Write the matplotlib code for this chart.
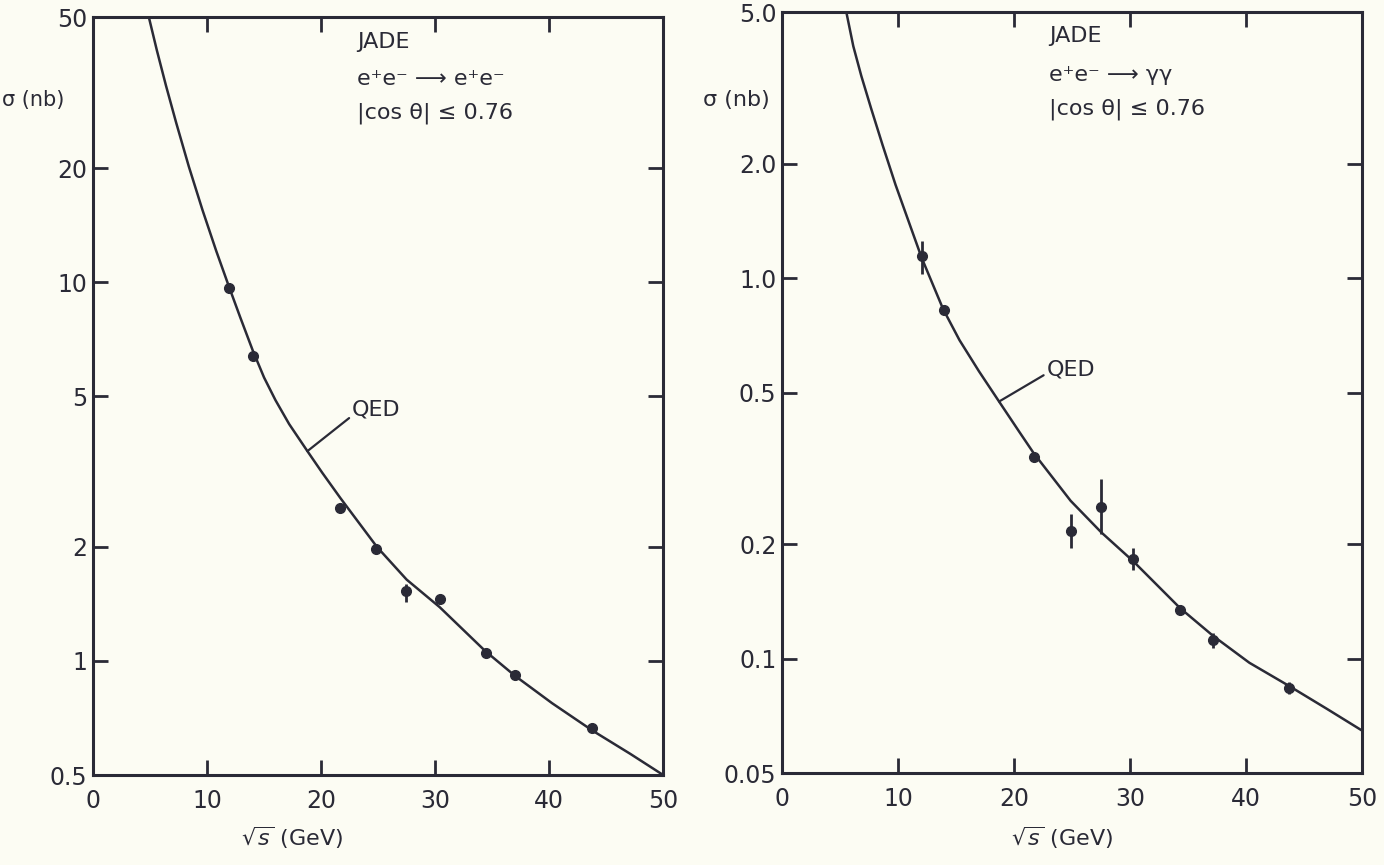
import numpy as np
import matplotlib.pyplot as plt
from matplotlib.ticker import NullLocator

# e+e- -> e+e- (left panel)
ee_x = [11.9, 14.0, 21.7, 24.85, 27.45, 30.45, 34.45, 37.0, 43.75]
ee_y = [9.65, 6.40, 2.53, 1.97, 1.53, 1.46, 1.047, 0.919, 0.667]
ee_lo = [0.3, 0.12, 0.05, 0.04, 0.10, 0.03, 0.02, 0.02, 0.015]
ee_hi = [0.3, 0.12, 0.05, 0.04, 0.07, 0.03, 0.02, 0.02, 0.015]
qed_ee_x = [4.9, 5.6, 6.4, 7.3, 8.4, 9.6, 10.8, 11.9, 12.9, 14.0, 15.0, 16.0,
            17.2, 18.8, 20.1, 21.7, 24.9, 27.5, 30.4, 34.4, 37.0, 40.25,
            43.8, 47.1, 50.0]
qed_ee_y = [50, 40.9, 33.0, 26.3, 20.2, 15.5, 12.1, 9.77, 8.09, 6.61, 5.60,
            4.88, 4.22, 3.58, 3.14, 2.69, 2.0, 1.64, 1.387, 1.062, 0.914,
            0.774, 0.655, 0.569, 0.5]

# e+e- -> gamma gamma (right panel)
gg_x = [12.05, 13.95, 21.7, 24.9, 27.5, 30.3, 34.3, 37.2, 43.7]
gg_y = [1.144, 0.825, 0.339, 0.217, 0.251, 0.183, 0.1344, 0.1118, 0.0838]
gg_lo = [0.12, 0.02, 0.008, 0.022, 0.038, 0.012, 0.004, 0.005, 0.003]
gg_hi = [0.106, 0.02, 0.008, 0.023, 0.045, 0.012, 0.004, 0.005, 0.003]
qed_gg_x = [5.55, 6.15, 6.84, 7.69, 8.67, 9.79, 10.92, 12.05, 13.89, 15.31,
            16.99, 18.72, 20.43, 21.7, 24.89, 27.52, 30.32, 34.31, 37.18,
            40.3, 43.73, 47.0, 50.0]
qed_gg_y = [5.0, 4.07, 3.40, 2.79, 2.24, 1.76, 1.41, 1.13, 0.830, 0.687,
            0.569, 0.474, 0.396, 0.347, 0.260, 0.215, 0.180, 0.136, 0.1148,
            0.0976, 0.0848, 0.0738, 0.0648]

x_ticks = [0, 10, 20, 30, 40, 50]
ee_ticks = [0.5, 1, 2, 5, 10, 20, 50]
ee_labels = ["0.5", "1", "2", "5", "10", "20", "50"]
gg_ticks = [0.05, 0.1, 0.2, 0.5, 1.0, 2.0, 5.0]
gg_labels = ["0.05", "0.1", "0.2", "0.5", "1.0", "2.0", "5.0"]

ink = "#2a2a36"
paper = "#fcfcf3"
plt.rcParams["font.family"] = ["DejaVu Sans"]
plt.rcParams["mathtext.fontset"] = "dejavusans"

fig = plt.figure(figsize=(13.84, 8.65), dpi=100, facecolor=paper)
ax1 = fig.add_axes([0.0672, 0.104, 0.412, 0.876])
ax2 = fig.add_axes([0.565, 0.106, 0.419, 0.880])


def style(ax, ticks, labels):
    ax.set_facecolor(paper)
    ax.set_yscale("log")
    ax.set_xlim(0, 50)
    ax.set_ylim(ticks[0], ticks[-1])
    ax.set_xticks(x_ticks)
    ax.set_yticks(ticks)
    ax.set_yticklabels(labels)
    ax.yaxis.set_minor_locator(NullLocator())
    ax.tick_params(direction="in", top=True, right=True, length=11, width=2,
                   color=ink, labelcolor=ink, labelsize=17)
    ax.tick_params(axis="x", pad=10)
    ax.tick_params(axis="y", pad=4)
    for s in ax.spines.values():
        s.set_linewidth(2.2)
        s.set_color(ink)


style(ax1, ee_ticks, ee_labels)
style(ax2, gg_ticks, gg_labels)

ax1.plot(qed_ee_x, qed_ee_y, color=ink, lw=1.8)
ax1.errorbar(ee_x, ee_y, yerr=[ee_lo, ee_hi], fmt="o", color=ink, ms=7,
             elinewidth=2, capsize=0)
ax2.plot(qed_gg_x, qed_gg_y, color=ink, lw=1.8)
ax2.errorbar(gg_x, gg_y, yerr=[gg_lo, gg_hi], fmt="o", color=ink, ms=7,
             elinewidth=2, capsize=0)

# panel captions
for ax, reaction, x0 in [(ax1, "e⁺e⁻ ⟶ e⁺e⁻", 0.463), (ax2, "e⁺e⁻ ⟶ γγ", 0.46)]:
    ax.text(x0, 0.968, "JADE", transform=ax.transAxes, fontsize=16,
            color=ink, va="center")
    ax.text(x0, 0.918, reaction, transform=ax.transAxes, fontsize=16,
            color=ink, va="center")
    ax.text(x0, 0.873, "|cos θ| ≤ 0.76", transform=ax.transAxes, fontsize=16,
            color=ink, va="center")

ax1.annotate("QED", xy=(18.8, 3.58), xytext=(22.7, 4.6), fontsize=16,
             color=ink, va="center", ha="left",
             arrowprops=dict(arrowstyle="-", color=ink, lw=1.6,
                             shrinkA=0, shrinkB=0, relpos=(0, 0.2)))
ax2.annotate("QED", xy=(18.72, 0.474), xytext=(22.8, 0.575), fontsize=16,
             color=ink, va="center", ha="left",
             arrowprops=dict(arrowstyle="-", color=ink, lw=1.6,
                             shrinkA=0, shrinkB=0, relpos=(0, 0.3)))

fig.text(2 / 1384, 1 - 100 / 865, "σ (nb)", ha="left", va="center",
         fontsize=15, color=ink)
fig.text(770 / 1384, 1 - 100 / 865, "σ (nb)", ha="right", va="center",
         fontsize=16, color=ink)
fig.text(292 / 1384, 1 - 838 / 865, r"$\sqrt{s}$ (GeV)", ha="center",
         va="center", fontsize=16, color=ink)
fig.text(1062 / 1384, 1 - 838 / 865, r"$\sqrt{s}$ (GeV)", ha="center",
         va="center", fontsize=16, color=ink)

fig.savefig("out.png", dpi=100, facecolor=paper)
